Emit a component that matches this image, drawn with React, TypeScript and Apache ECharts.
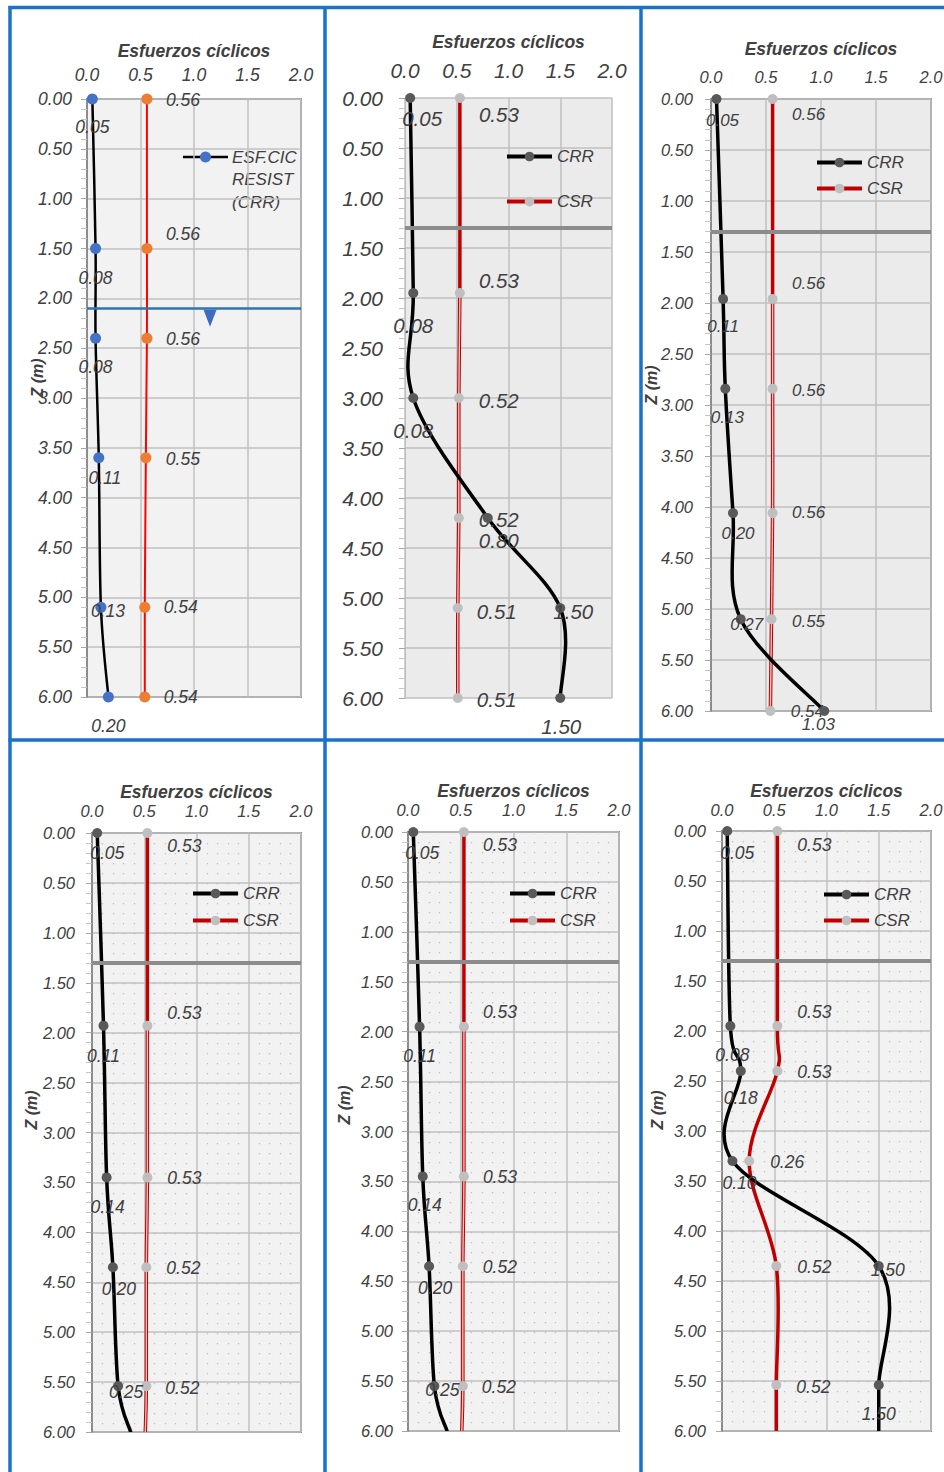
import React, { useEffect, useRef } from "react";
import * as echarts from "echarts";

// ---------------- data ----------------
const X_TITLE = "Esfuerzos cíclicos";
const Y_TITLE = "Z (m)";
const LAYER_DEPTH = 1.3;

const P1_DEPTH = [0, 1.5, 2.4, 3.6, 5.1, 6.0];
const P1_CRR = [0.05, 0.08, 0.08, 0.11, 0.13, 0.2];
const P1_CSR = [0.56, 0.56, 0.56, 0.55, 0.54, 0.54];
const P1_WATER_TABLE = 2.1;
const P1_WATER_SYMBOL = [1.15, 2.2];

const P2_DEPTH = [0, 1.95, 3.0, 4.2, 5.1, 6.0];
const P2_CRR = [0.05, 0.08, 0.08, 0.8, 1.5, 1.5];
const P2_CSR = [0.53, 0.53, 0.52, 0.52, 0.51, 0.51];

const P3_DEPTH = [0, 1.96, 2.84, 4.06, 5.1, 6.0];
const P3_CRR = [0.05, 0.11, 0.13, 0.2, 0.27, 1.03];
const P3_CSR = [0.56, 0.56, 0.56, 0.56, 0.55, 0.54];

const P4_DEPTH = [0, 1.93, 3.45, 4.35, 5.54, 6.0];
const P4_CRR = [0.05, 0.11, 0.14, 0.2, 0.25, 0.37];
const P4_CSR = [0.53, 0.53, 0.53, 0.52, 0.52, 0.51];

const P5_DEPTH = [0, 1.95, 3.45, 4.35, 5.55, 6.0];
const P5_CRR = [0.05, 0.11, 0.14, 0.2, 0.25, 0.37];
const P5_CSR = [0.53, 0.53, 0.53, 0.52, 0.52, 0.51];

const P6_DEPTH = [0, 1.95, 2.4, 3.3, 4.35, 5.54, 6.0];
const P6_CRR = [0.05, 0.08, 0.18, 0.1, 1.5, 1.5, 1.5];
const P6_CSR = [0.53, 0.53, 0.53, 0.26, 0.52, 0.52, 0.52];

// ---------------- label offsets (px, relative to the marker) ----------------
const P1_CRR_LBL = [[0, 28], [0, 29], [0, 29], [6, 20], [7, 4], [0, 29]];
const P1_CSR_LBL = [[36, 1], [36, -15], [36, 1], [37, 1], [36, 0], [36, 0]];
const P2_CRR_LBL = [[12, 20], [0, 32], [0, 32], [11, 22], [13, 3], [1, 28]];
const P2_CSR_LBL = [[39, 16], [39, -13], [40, 2], [40, 1], [39, 3], [39, 1]];
const P3_CRR_LBL = [[6, 21], [0, 28], [2, 29], [5, 20], [6, 5], [-6, 13]];
const P3_CSR_LBL = [[36, 15], [36, -15], [36, 2], [36, -1], [37, 2], [37, 0]];
const P4_CRR_LBL = [[10, 20], [0, 30], [1, 30], [6, 22], [8, 6]];
const P4_CSR_LBL = [[37, 13], [37, -13], [37, 1], [37, 1], [36, 2]];
const P5_CRR_LBL = [[9, 21], [0, 29], [2, 29], [6, 22], [8, 4]];
const P5_CSR_LBL = [[36, 13], [36, -15], [36, 1], [37, 1], [36, 1]];
const P6_CRR_LBL = [[10, 22], [2, 29], [0, 27], [7, 22], [9, 4], [0, 29]];
const P6_CSR_LBL = [[37, 14], [37, -14], [37, 1], [38, 1], [38, 1], [37, 2]];

// ---------------- layout / style ----------------
const FONT = '"Liberation Sans", Arial, sans-serif';
const TXT = "#404040";
const FRAME = "#1a73c8";

type Layout = {
  depth: number[]; crr: number[]; csr: number[];
  crrLbl: number[][]; csrLbl: number[][];
  crrName: string; csrName: string;
  grid: number[]; tick: number; lbl: number;
  xMargin: number; yMargin: number; nameGap: number;
  bg: string; border: number; dots: boolean; hollow: boolean; marked: number;
  z: number[] | null; legend: number[] | null; first: boolean;
};

const PANELS: Layout[] = [
  { depth: P1_DEPTH, crr: P1_CRR, csr: P1_CSR, crrLbl: P1_CRR_LBL, csrLbl: P1_CSR_LBL,
    crrName: "ESF.CIC RESIST (CRR)", csrName: "ESF.CIC ACTUANTE (CSR)",
    grid: [87, 99, 214, 598], tick: 17.5, lbl: 17.5, xMargin: 15, yMargin: 15, nameGap: 39,
    bg: "#f2f2f2", border: 2, dots: false, hollow: false, marked: 6, z: [37, 378], legend: null, first: true },
  { depth: P2_DEPTH, crr: P2_CRR, csr: P2_CSR, crrLbl: P2_CRR_LBL, csrLbl: P2_CSR_LBL,
    crrName: "CRR", csrName: "CSR",
    grid: [405, 98, 207, 600], tick: 21, lbl: 20.5, xMargin: 17, yMargin: 22, nameGap: 47,
    bg: "#ebebeb", border: 0, dots: false, hollow: true, marked: 6, z: null, legend: [505, 148, 28], first: false },
  { depth: P3_DEPTH, crr: P3_CRR, csr: P3_CSR, crrLbl: P3_CRR_LBL, csrLbl: P3_CSR_LBL,
    crrName: "CRR", csrName: "CSR",
    grid: [711, 99, 220, 612], tick: 16.5, lbl: 17, xMargin: 14, yMargin: 18, nameGap: 41,
    bg: "#ebebeb", border: 2, dots: false, hollow: true, marked: 6, z: [651, 385], legend: [815, 154, 9], first: false },
  { depth: P4_DEPTH, crr: P4_CRR, csr: P4_CSR, crrLbl: P4_CRR_LBL, csrLbl: P4_CSR_LBL,
    crrName: "CRR", csrName: "CSR",
    grid: [92, 833, 209, 599], tick: 16.5, lbl: 17.5, xMargin: 14, yMargin: 17, nameGap: 31,
    bg: "#f2f2f2", border: 2, dots: true, hollow: true, marked: 5, z: [31, 1110], legend: [191, 885, 10], first: false },
  { depth: P5_DEPTH, crr: P5_CRR, csr: P5_CSR, crrLbl: P5_CRR_LBL, csrLbl: P5_CSR_LBL,
    crrName: "CRR", csrName: "CSR",
    grid: [408, 832, 211, 599], tick: 16.5, lbl: 17.5, xMargin: 14, yMargin: 15, nameGap: 30,
    bg: "#f2f2f2", border: 2, dots: true, hollow: true, marked: 5, z: [344, 1105], legend: [508, 885, 10], first: false },
  { depth: P6_DEPTH, crr: P6_CRR, csr: P6_CSR, crrLbl: P6_CRR_LBL, csrLbl: P6_CSR_LBL,
    crrName: "CRR", csrName: "CSR",
    grid: [722, 831, 209, 600], tick: 16.5, lbl: 17.5, xMargin: 13, yMargin: 16, nameGap: 29,
    bg: "#f2f2f2", border: 2, dots: true, hollow: false, marked: 6, z: [657, 1110], legend: [822, 886, 9], first: false },
];

function pointData(vals: number[], depth: number[], offsets: number[][], marked: number) {
  return depth.map((d, k) =>
    k >= marked
      ? { value: [vals[k], d], symbol: "none", label: { show: false } }
      : { value: [vals[k], d], label: { offset: offsets[k] } }
  );
}

// Excel-like smoothed curve (Catmull-Rom, 1/6 tension), drawn through the axes' scales
function curveSeries(i: number, name: string, vals: number[], depth: number[], color: string, width: number, core: boolean, z: number) {
  const n = vals.length;
  return {
    type: "custom", name, xAxisIndex: i, yAxisIndex: i, z, silent: true, clip: true,
    data: depth.slice(0, -1).map((d, k) => [vals[k], d, vals[k + 1], depth[k + 1]]),
    encode: { x: [0, 2], y: [1, 3] },
    renderItem: (params: any, api: any) => {
      const k = params.dataIndex;
      const P = (j: number) => {
        const c = Math.max(0, Math.min(n - 1, j));
        return api.coord([vals[c], depth[c]]);
      };
      const p0 = P(k - 1), p1 = P(k), p2 = P(k + 1), p3 = P(k + 2);
      const shape = {
        x1: p1[0], y1: p1[1],
        cpx1: p1[0] + (p2[0] - p0[0]) / 6, cpy1: p1[1] + (p2[1] - p0[1]) / 6,
        cpx2: p2[0] - (p3[0] - p1[0]) / 6, cpy2: p2[1] - (p3[1] - p1[1]) / 6,
        x2: p2[0], y2: p2[1],
      };
      const children: any[] = [
        { type: "bezierCurve", shape, style: { stroke: color, lineWidth: width, fill: null, lineCap: "round" } },
      ];
      if (core && k >= 1) {
        children.push({ type: "bezierCurve", shape, style: { stroke: "#e6c2c2", lineWidth: 1.4, fill: null } });
      }
      return { type: "group", children };
    },
  };
}

function buildOption() {
  const grid: any[] = [];
  const xAxis: any[] = [];
  const yAxis: any[] = [];
  const series: any[] = [];
  const legend: any[] = [];
  const graphic: any[] = [];

  PANELS.forEach((p, i) => {
    const [l, t, w, h] = p.grid;
    grid.push({
      left: l, top: t, width: w, height: h, containLabel: false, outerBoundsMode: "none",
      show: true, backgroundColor: p.bg, borderColor: "#8c8c8c", borderWidth: p.border,
    });
    const splitLine = { show: true, lineStyle: { color: "#c0c0c0", width: 1.5 } };
    xAxis.push({
      gridIndex: i, type: "value", position: "top", min: 0, max: 2, interval: 0.5,
      name: X_TITLE, nameLocation: "middle", nameGap: p.nameGap,
      nameTextStyle: { fontSize: 17.5, fontStyle: "italic", fontWeight: "bold", color: TXT, fontFamily: FONT },
      axisLine: { show: false }, axisTick: { show: false },
      axisLabel: { formatter: (v: number) => v.toFixed(1), fontSize: p.tick, fontStyle: "italic", color: TXT, margin: p.xMargin, fontFamily: FONT },
      splitLine,
      minorTick: { show: false, splitNumber: 5 },
      minorSplitLine: { show: p.dots, lineStyle: { color: "#bdbdbd", width: 1.3, type: [1.3, 8.7] } },
    });
    yAxis.push({
      gridIndex: i, type: "value", inverse: true, min: 0, max: 6, interval: 0.5,
      axisLine: { show: true, lineStyle: { color: p.border ? "#8c8c8c" : "#bfbfbf", width: p.border ? 2 : 1 } },
      axisTick: { show: true, length: 6, lineStyle: { color: "#a6a6a6" } },
      minorTick: { show: true, splitNumber: 5, length: 6, lineStyle: { color: "#c4c4c4" } },
      axisLabel: { formatter: (v: number) => v.toFixed(2), fontSize: p.tick, fontStyle: "italic", color: TXT, margin: p.yMargin, fontFamily: FONT },
      splitLine,
    });

    const labelBase = {
      show: true, position: "inside",
      formatter: (q: any) => Number(q.value[0]).toFixed(2),
      fontSize: p.lbl, fontStyle: "italic", color: TXT, fontFamily: FONT,
    };
    const crrColor = "#000000";
    const csrColor = p.first ? "#ff0000" : "#c00000";
    const crrW = p.first ? 2.5 : 3.5;
    const csrW = p.first ? 2 : 3.5;

    // curves
    series.push(curveSeries(i, "csr-curve-" + i, p.csr, p.depth, csrColor, csrW, p.hollow, 2));
    series.push(curveSeries(i, "crr-curve-" + i, p.crr, p.depth, crrColor, crrW, false, 3));

    // markers + value labels
    const csrSeries: any = {
      name: p.csrName, type: "line", xAxisIndex: i, yAxisIndex: i,
      symbol: "circle", symbolSize: p.first ? 11 : 10,
      lineStyle: { color: csrColor, width: csrW, opacity: 0 },
      itemStyle: { color: p.first ? "#ed7d31" : "#bfbfbf" },
      label: labelBase, z: 4,
      data: pointData(p.csr, p.depth, p.csrLbl, p.marked),
    };
    const crrSeries: any = {
      name: p.crrName, type: "line", xAxisIndex: i, yAxisIndex: i,
      symbol: "circle", symbolSize: p.first ? 11 : 10,
      lineStyle: { color: crrColor, width: crrW, opacity: 0 },
      itemStyle: { color: p.first ? "#4472c4" : "#595959" },
      label: labelBase, z: 5,
      data: pointData(p.crr, p.depth, p.crrLbl, p.marked),
    };
    if (p.first) {
      crrSeries.markLine = {
        silent: true, symbol: ["none", "none"], label: { show: false },
        lineStyle: { color: "#2e75b6", width: 2.5, type: "solid", opacity: 1 },
        data: [{ yAxis: P1_WATER_TABLE }],
      };
      crrSeries.markPoint = {
        silent: true, symbol: "triangle", symbolRotate: 180, symbolSize: [13, 17],
        itemStyle: { color: "#3d6bbd" }, label: { show: false },
        data: [{ coord: P1_WATER_SYMBOL }],
      };
    } else {
      csrSeries.markLine = {
        silent: true, symbol: ["none", "none"], label: { show: false },
        lineStyle: { color: "#8c8c8c", width: 4, type: "solid", opacity: 1 },
        data: [{ yAxis: LAYER_DEPTH }],
      };
    }
    series.push(csrSeries, crrSeries);

    if (p.legend) {
      legend.push({
        data: [
          { name: "CRR", lineStyle: { color: crrColor, width: 4, opacity: 1 }, itemStyle: { color: "#595959" } },
          { name: "CSR", lineStyle: { color: csrColor, width: 4, opacity: 1 }, itemStyle: { color: "#bfbfbf" } },
        ],
        orient: "vertical", left: p.legend[0], top: p.legend[1],
        itemGap: p.legend[2], itemWidth: 45, itemHeight: 12, itemTextGap: 6,
        selectedMode: false, padding: 0,
        textStyle: { fontSize: 17, fontStyle: "italic", color: TXT, fontFamily: FONT },
      });
    }
    if (p.z) {
      graphic.push({
        type: "text", x: p.z[0], y: p.z[1], rotation: Math.PI / 2, silent: true,
        style: { text: Y_TITLE, fontSize: 16, fontStyle: "italic", fontWeight: "bold", fontFamily: FONT, fill: TXT, align: "center", verticalAlign: "middle" },
      });
    }
  });

  // legend of the first panel (multi-line label)
  graphic.push(
    { type: "line", silent: true, shape: { x1: 183, y1: 157, x2: 228, y2: 157 }, style: { stroke: "#000", lineWidth: 2.5 } },
    { type: "circle", silent: true, shape: { cx: 205.5, cy: 157, r: 5.5 }, style: { fill: "#4472c4" } },
    { type: "text", silent: true, x: 232, y: 146,
      style: { text: "ESF.CIC\nRESIST\n(CRR)", fontSize: 17, lineHeight: 22.5, fontStyle: "italic", fontFamily: FONT, fill: TXT, align: "left", verticalAlign: "top" } }
  );

  // blue frame
  const fl = (x1: number, y1: number, x2: number, y2: number) => ({
    type: "line", silent: true, z: 100, shape: { x1, y1, x2, y2 }, style: { stroke: FRAME, lineWidth: 3.5 },
  });
  graphic.push(fl(8.5, 7.5, 944, 7.5), fl(10, 6, 10, 1472), fl(325, 6, 325, 1472), fl(641, 6, 641, 1472), fl(8.5, 740, 944, 740));

  return {
    animation: false,
    backgroundColor: "#ffffff",
    textStyle: { fontFamily: FONT },
    grid, xAxis, yAxis, series, legend, graphic,
  };
}

export default function App() {
  const ref = useRef<HTMLDivElement>(null);
  useEffect(() => {
    if (!ref.current) return;
    const chart = echarts.init(ref.current, null, { renderer: "svg" });
    chart.setOption(buildOption() as any);
    return () => chart.dispose();
  }, []);
  return (
    <div
      ref={ref}
      style={{ position: "absolute", left: 0, top: 0, width: 944, height: 1472, background: "#fff" }}
    />
  );
}
